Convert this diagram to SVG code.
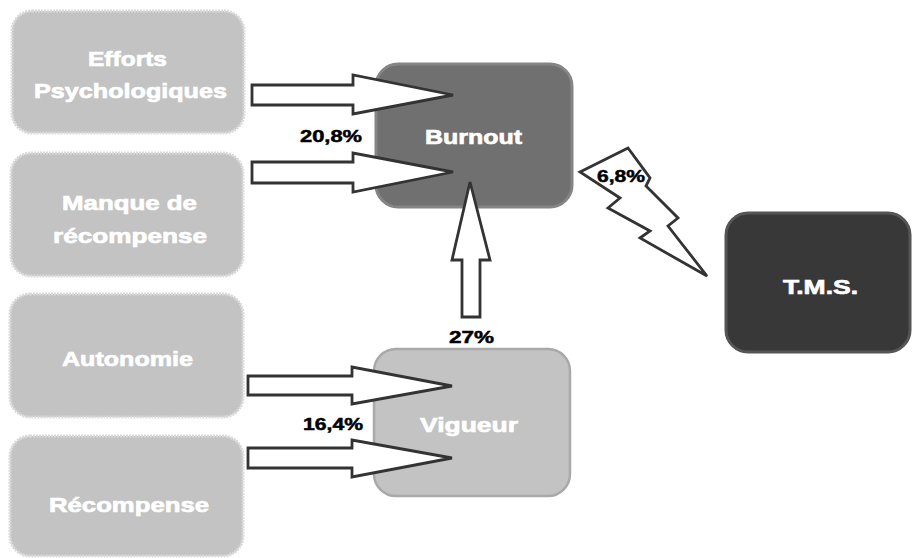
<svg xmlns="http://www.w3.org/2000/svg" width="912" height="558" viewBox="0 0 912 558">
  <style>
    .src { fill: #c3c3c3; stroke: #dadada; stroke-width: 3; stroke-dasharray: 2 1; }
    .burn { fill: #6f6f6f; stroke: #858585; stroke-width: 3; }
    .vig { fill: #c3c3c3; stroke: #a9a9a9; stroke-width: 2.5; }
    .tms { fill: #383838; stroke: #555555; stroke-width: 3; }
    .lbl { font-family: "Liberation Sans", Arial, sans-serif; font-weight: bold; font-size: 21px; fill: #ffffff; stroke: #ffffff; stroke-width: 0.7; }
    .pct { font-family: "Liberation Sans", Arial, sans-serif; font-weight: bold; font-size: 17px; fill: #000000; stroke: #000000; stroke-width: 0.5; }
    .arrow { fill: #ffffff; stroke: #333333; stroke-width: 2.8; stroke-linejoin: miter; }
  </style>
  <defs>
    <filter id="soft" x="-5%" y="-5%" width="110%" height="110%">
      <feGaussianBlur stdDeviation="0.6"/>
    </filter>
  </defs>

  <rect width="912" height="558" fill="#ffffff"/>

  <!-- source factors -->
  <g id="efforts">
    <rect class="src" x="12" y="11" width="232" height="122" rx="20"/>
    <text class="lbl" x="88" y="66" textLength="79" lengthAdjust="spacingAndGlyphs">Efforts</text>
    <text class="lbl" x="34" y="98" textLength="193" lengthAdjust="spacingAndGlyphs">Psychologiques</text>
  </g>
  <g id="manque">
    <rect class="src" x="11" y="153" width="232" height="123" rx="20"/>
    <text class="lbl" x="62" y="210" textLength="135" lengthAdjust="spacingAndGlyphs">Manque de</text>
    <text class="lbl" x="53" y="243" textLength="154" lengthAdjust="spacingAndGlyphs">récompense</text>
  </g>
  <g id="autonomie">
    <rect class="src" x="10" y="294" width="233" height="123" rx="20"/>
    <text class="lbl" x="62" y="366" textLength="131" lengthAdjust="spacingAndGlyphs">Autonomie</text>
  </g>
  <g id="recompense">
    <rect class="src" x="10" y="436" width="233" height="120" rx="20"/>
    <text class="lbl" x="49" y="512" textLength="160" lengthAdjust="spacingAndGlyphs">Récompense</text>
  </g>

  <!-- outcome nodes -->
  <g id="burnout">
    <rect class="burn" x="376" y="64" width="196" height="143" rx="22" filter="url(#soft)"/>
    <text class="lbl" x="425" y="144" textLength="97" lengthAdjust="spacingAndGlyphs">Burnout</text>
  </g>
  <g id="vigueur">
    <rect class="vig" x="374" y="349" width="196" height="147" rx="22"/>
    <text class="lbl" x="420" y="432" textLength="98" lengthAdjust="spacingAndGlyphs">Vigueur</text>
  </g>
  <g id="tms">
    <rect class="tms" x="726" y="213" width="184" height="139" rx="22" filter="url(#soft)"/>
    <text class="lbl" x="783" y="294" textLength="75" lengthAdjust="spacingAndGlyphs">T.M.S.</text>
  </g>

  <!-- connectors -->
  <g id="connectors">
    <polygon class="arrow" points="252,85 353,85 353,75 453,95 353,114 353,105 252,105"/>
    <polygon class="arrow" points="252,162 353,162 353,153 453,172 353,192 353,183 252,183"/>
    <polygon class="arrow" points="248,376 352,376 352,367 452,386 352,404 352,395 248,395"/>
    <polygon class="arrow" points="248,448 352,448 352,440 452,458 352,477 352,468 248,468"/>
    <polygon class="arrow" points="462,317 462,260 452,260 470,182 490,260 480,260 480,317"/>
    <polygon class="arrow" points="580,172 628,148 650,178 646,186 678,218 668,226 707,276 640,238 650,231 608,208 620,198"/>

    <text class="pct" x="300" y="142" textLength="62" lengthAdjust="spacingAndGlyphs">20,8%</text>
    <text class="pct" x="303" y="430" textLength="60" lengthAdjust="spacingAndGlyphs">16,4%</text>
    <text class="pct" x="449" y="343" textLength="45" lengthAdjust="spacingAndGlyphs">27%</text>
    <text class="pct" x="597" y="182" textLength="48" lengthAdjust="spacingAndGlyphs">6,8%</text>
  </g>
</svg>
